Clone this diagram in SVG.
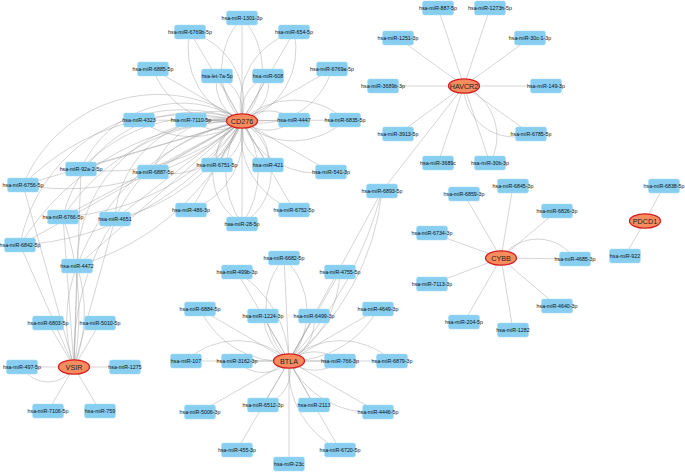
<svg xmlns="http://www.w3.org/2000/svg" width="685" height="473" viewBox="0 0 685 473">
<style>
.e{fill:none;stroke:#9a9a9a;stroke-opacity:0.6;stroke-width:0.7}
.m{fill:#87cef0;stroke:#a6dcf5;stroke-width:0.5}
.g{fill:#f98c5f;stroke:#d42020;stroke-width:1.3}
.t{font-family:"Liberation Sans",Arial,sans-serif;font-size:5.3px;fill:#111;text-anchor:middle;dominant-baseline:central}
.gt{font-family:"Liberation Sans",Arial,sans-serif;font-size:7.2px;fill:#222;text-anchor:middle;dominant-baseline:central}
</style>
<defs>
<rect id="box" class="m" x="-15.5" y="-7" width="31" height="14" rx="2"/>
</defs>
<rect width="685" height="473" fill="#fff"/>
<g id="edges">
<path class="e" d="M242 121 L242 18 M242 121 A75 75 0 0 0 242 18 M242 121 A75 75 0 0 1 242 18"/>
<path class="e" d="M242 121 L190 32 M242 121 A75 75 0 0 0 190 32 M242 121 A75 75 0 0 1 190 32"/>
<path class="e" d="M242 121 L294 32 M242 121 A75 75 0 0 0 294 32 M242 121 A75 75 0 0 1 294 32"/>
<path class="e" d="M242 121 L153 69 M242 121 A80 80 0 0 1 153 69"/>
<path class="e" d="M242 121 L217 76 M242 121 A40 40 0 0 0 217 76 M242 121 A40 40 0 0 1 217 76"/>
<path class="e" d="M242 121 L268 76 M242 121 A40 40 0 0 0 268 76 M242 121 A40 40 0 0 1 268 76"/>
<path class="e" d="M242 121 L332 69 M242 121 A75 75 0 0 0 332 69"/>
<path class="e" d="M242 121 L139 120 M242 121 A90 90 0 0 1 139 120"/>
<path class="e" d="M242 121 L191 120 M242 121 A40 40 0 0 0 191 120 M242 121 A40 40 0 0 1 191 120"/>
<path class="e" d="M242 121 L294 120 M242 121 A40 40 0 0 0 294 120 M242 121 A40 40 0 0 1 294 120"/>
<path class="e" d="M242 121 L345 120 M242 121 A75 75 0 0 0 345 120 M242 121 A75 75 0 0 1 345 120"/>
<path class="e" d="M242 121 L217 165 M242 121 A40 40 0 0 0 217 165 M242 121 A40 40 0 0 1 217 165"/>
<path class="e" d="M242 121 L268 165 M242 121 A40 40 0 0 0 268 165 M242 121 A40 40 0 0 1 268 165"/>
<path class="e" d="M242 121 L331 172 M242 121 A80 80 0 0 0 331 172"/>
<path class="e" d="M242 121 L153 172 M242 121 A75 75 0 0 0 153 172 M242 121 A75 75 0 0 1 153 172"/>
<path class="e" d="M242 121 L191 210 M242 121 A80 80 0 0 1 191 210"/>
<path class="e" d="M242 121 L294 210 M242 121 A80 80 0 0 0 294 210"/>
<path class="e" d="M242 121 L242 224 M242 121 A60 60 0 0 0 242 224 M242 121 A60 60 0 0 1 242 224 M242 121 A90 90 0 0 0 242 224 M242 121 A90 90 0 0 1 242 224"/>
<path class="e" d="M242 121 L81 169 M242 121 A110 110 0 0 0 81 169 M242 121 A170 170 0 0 0 81 169 M242 121 A200 200 0 0 1 81 169"/>
<path class="e" d="M242 121 L23 185 M242 121 A146 146 0 0 0 23 185 M242 121 A230 230 0 0 0 23 185 M242 121 A260 260 0 0 1 23 185"/>
<path class="e" d="M242 121 L63 217 M242 121 A135 135 0 0 0 63 217 M242 121 A210 210 0 0 0 63 217 M242 121 A240 240 0 0 1 63 217"/>
<path class="e" d="M242 121 L115 219 M242 121 A105 105 0 0 0 115 219 M242 121 A170 170 0 0 0 115 219 M242 121 A190 190 0 0 1 115 219"/>
<path class="e" d="M242 121 L20 245 M242 121 A165 165 0 0 0 20 245 M242 121 A260 260 0 0 0 20 245 M242 121 A290 290 0 0 1 20 245"/>
<path class="e" d="M242 121 L77 266 M242 121 A145 145 0 0 0 77 266 M242 121 A230 230 0 0 0 77 266 M242 121 A260 260 0 0 1 77 266"/>
<path class="e" d="M74 367 L48 323 M74 367 L100 323 M74 367 L22 367 M74 367 A30 30 0 0 1 22 367 M74 367 L125 367 M74 367 L48 411 M74 367 L100 411"/>
<path class="e" d="M74 367 L81 169 M74 367 L23 185 M74 367 L63 217 M74 367 A300 300 0 0 0 63 217 M74 367 L115 219 M74 367 A250 250 0 0 1 115 219 M74 367 L20 245 M74 367 L77 266 M74 367 A150 150 0 0 0 77 266 M74 367 A150 150 0 0 1 77 266"/>
<path class="e" d="M289 361 L284 258 M289 361 A75 75 0 0 0 284 258 M289 361 A75 75 0 0 1 284 258"/>
<path class="e" d="M289 361 L237 272 M289 361 A110 110 0 0 0 237 272"/>
<path class="e" d="M289 361 L340 272 M289 361 A110 110 0 0 0 340 272"/>
<path class="e" d="M289 361 L200 309 M289 361 A90 90 0 0 1 200 309"/>
<path class="e" d="M289 361 L263 316 M289 361 A60 60 0 0 1 263 316"/>
<path class="e" d="M289 361 L314 316 M289 361 A45 45 0 0 0 314 316"/>
<path class="e" d="M289 361 L378 309 M289 361 A100 100 0 0 0 378 309"/>
<path class="e" d="M289 361 L186 361 M289 361 A75 75 0 0 0 186 361"/>
<path class="e" d="M289 361 L237 361 M289 361 A35 35 0 0 1 237 361"/>
<path class="e" d="M289 361 L340 361 M289 361 A40 40 0 0 1 340 361 M289 361 A40 40 0 0 0 340 361"/>
<path class="e" d="M289 361 L392 361 M289 361 A75 75 0 0 1 392 361"/>
<path class="e" d="M289 361 L200 412"/>
<path class="e" d="M289 361 L263 405 M289 361 A35 35 0 0 1 263 405"/>
<path class="e" d="M289 361 L314 405"/>
<path class="e" d="M289 361 L378 412 M289 361 A90 90 0 0 0 378 412"/>
<path class="e" d="M289 361 L237 450"/>
<path class="e" d="M289 361 L340 450 M289 361 A90 90 0 0 0 340 450"/>
<path class="e" d="M289 361 L289 464"/>
<path class="e" d="M289 361 L382 191 M289 361 A250 250 0 0 0 382 191 M289 361 A400 400 0 0 0 382 191"/>
<path class="e" d="M464 86 L438 8 M464 86 L490 8 M464 86 L398 38 M464 86 L530 38 M464 86 L383 86 M464 86 L546 86 M464 86 L398 134 M464 86 L438 163 M464 86 L382 191"/>
<path class="e" d="M464 86 L531 134 M464 86 A50 50 0 0 0 531 134"/>
<path class="e" d="M464 86 L490 163 M464 86 A55 55 0 0 1 490 163"/>
<path class="e" d="M501 258 L464 194 M501 258 L513 186 M501 258 L557 211 M501 258 L432 233 M501 258 L432 284 M501 258 L557 306 M501 258 L464 322 M501 258 L513 330"/>
<path class="e" d="M501 258 L575 259 M501 258 A45 45 0 0 1 575 259"/>
<path class="e" d="M645 221 L664 186 M645 221 L625 256"/>
</g>
<g id="n-1301-3p" transform="translate(242,18)"><use href="#box"/><text class="t">hsa-miR-1301-3p</text></g>
<g id="n-6769b-5p" transform="translate(190,32)"><use href="#box"/><text class="t">hsa-miR-6769b-5p</text></g>
<g id="n-654-5p" transform="translate(294,32)"><use href="#box"/><text class="t">hsa-miR-654-5p</text></g>
<g id="n-6885-5p" transform="translate(153,69)"><use href="#box"/><text class="t">hsa-miR-6885-5p</text></g>
<g id="n-let-7a-5p" transform="translate(217,76)"><use href="#box"/><text class="t">hsa-let-7a-5p</text></g>
<g id="n-608" transform="translate(268,76)"><use href="#box"/><text class="t">hsa-miR-608</text></g>
<g id="n-6769a-5p" transform="translate(332,69)"><use href="#box"/><text class="t">hsa-miR-6769a-5p</text></g>
<g id="n-4323" transform="translate(139,120)"><use href="#box"/><text class="t">hsa-miR-4323</text></g>
<g id="n-7110-5p" transform="translate(191,120)"><use href="#box"/><text class="t">hsa-miR-7110-5p</text></g>
<g id="n-4447" transform="translate(294,120)"><use href="#box"/><text class="t">hsa-miR-4447</text></g>
<g id="n-6835-5p" transform="translate(345,120)"><use href="#box"/><text class="t">hsa-miR-6835-5p</text></g>
<g id="n-6751-5p" transform="translate(217,165)"><use href="#box"/><text class="t">hsa-miR-6751-5p</text></g>
<g id="n-421" transform="translate(268,165)"><use href="#box"/><text class="t">hsa-miR-421</text></g>
<g id="n-541-3p" transform="translate(331,172)"><use href="#box"/><text class="t">hsa-miR-541-3p</text></g>
<g id="n-6887-5p" transform="translate(153,172)"><use href="#box"/><text class="t">hsa-miR-6887-5p</text></g>
<g id="n-486-3p" transform="translate(191,210)"><use href="#box"/><text class="t">hsa-miR-486-3p</text></g>
<g id="n-6752-5p" transform="translate(294,210)"><use href="#box"/><text class="t">hsa-miR-6752-5p</text></g>
<g id="n-28-5p" transform="translate(242,224)"><use href="#box"/><text class="t">hsa-miR-28-5p</text></g>
<g id="n-92a-2-5p" transform="translate(81,169)"><use href="#box"/><text class="t">hsa-miR-92a-2-5p</text></g>
<g id="n-6756-5p" transform="translate(23,185)"><use href="#box"/><text class="t">hsa-miR-6756-5p</text></g>
<g id="n-6766-5p" transform="translate(63,217)"><use href="#box"/><text class="t">hsa-miR-6766-5p</text></g>
<g id="n-4651" transform="translate(115,219)"><use href="#box"/><text class="t">hsa-miR-4651</text></g>
<g id="n-6842-5p" transform="translate(20,245)"><use href="#box"/><text class="t">hsa-miR-6842-5p</text></g>
<g id="n-4472" transform="translate(77,266)"><use href="#box"/><text class="t">hsa-miR-4472</text></g>
<g id="n-6803-5p" transform="translate(48,323)"><use href="#box"/><text class="t">hsa-miR-6803-5p</text></g>
<g id="n-5010-5p" transform="translate(100,323)"><use href="#box"/><text class="t">hsa-miR-5010-5p</text></g>
<g id="n-497-5p" transform="translate(22,367)"><use href="#box"/><text class="t">hsa-miR-497-5p</text></g>
<g id="n-1275" transform="translate(125,367)"><use href="#box"/><text class="t">hsa-miR-1275</text></g>
<g id="n-7106-5p" transform="translate(48,411)"><use href="#box"/><text class="t">hsa-miR-7106-5p</text></g>
<g id="n-759" transform="translate(100,411)"><use href="#box"/><text class="t">hsa-miR-759</text></g>
<g id="n-6682-5p" transform="translate(284,258)"><use href="#box"/><text class="t">hsa-miR-6682-5p</text></g>
<g id="n-499b-3p" transform="translate(237,272)"><use href="#box"/><text class="t">hsa-miR-499b-3p</text></g>
<g id="n-4755-5p" transform="translate(340,272)"><use href="#box"/><text class="t">hsa-miR-4755-5p</text></g>
<g id="n-6884-5p" transform="translate(200,309)"><use href="#box"/><text class="t">hsa-miR-6884-5p</text></g>
<g id="n-1224-3p" transform="translate(263,316)"><use href="#box"/><text class="t">hsa-miR-1224-3p</text></g>
<g id="n-6499-3p" transform="translate(314,316)"><use href="#box"/><text class="t">hsa-miR-6499-3p</text></g>
<g id="n-4649-3p" transform="translate(378,309)"><use href="#box"/><text class="t">hsa-miR-4649-3p</text></g>
<g id="n-107" transform="translate(186,361)"><use href="#box"/><text class="t">hsa-miR-107</text></g>
<g id="n-3162-3p" transform="translate(237,361)"><use href="#box"/><text class="t">hsa-miR-3162-3p</text></g>
<g id="n-766-3p" transform="translate(340,361)"><use href="#box"/><text class="t">hsa-miR-766-3p</text></g>
<g id="n-6879-3p" transform="translate(392,361)"><use href="#box"/><text class="t">hsa-miR-6879-3p</text></g>
<g id="n-5006-3p" transform="translate(200,412)"><use href="#box"/><text class="t">hsa-miR-5006-3p</text></g>
<g id="n-6512-3p" transform="translate(263,405)"><use href="#box"/><text class="t">hsa-miR-6512-3p</text></g>
<g id="n-2113" transform="translate(314,405)"><use href="#box"/><text class="t">hsa-miR-2113</text></g>
<g id="n-4446-5p" transform="translate(378,412)"><use href="#box"/><text class="t">hsa-miR-4446-5p</text></g>
<g id="n-455-3p" transform="translate(237,450)"><use href="#box"/><text class="t">hsa-miR-455-3p</text></g>
<g id="n-6720-5p" transform="translate(340,450)"><use href="#box"/><text class="t">hsa-miR-6720-5p</text></g>
<g id="n-23c" transform="translate(289,464)"><use href="#box"/><text class="t">hsa-miR-23c</text></g>
<g id="n-6893-5p" transform="translate(382,191)"><use href="#box"/><text class="t">hsa-miR-6893-5p</text></g>
<g id="n-887-5p" transform="translate(438,8)"><use href="#box"/><text class="t">hsa-miR-887-5p</text></g>
<g id="n-1273h-5p" transform="translate(490,8)"><use href="#box"/><text class="t">hsa-miR-1273h-5p</text></g>
<g id="n-1251-3p" transform="translate(398,38)"><use href="#box"/><text class="t">hsa-miR-1251-3p</text></g>
<g id="n-30c-1-3p" transform="translate(530,38)"><use href="#box"/><text class="t">hsa-miR-30c-1-3p</text></g>
<g id="n-3689b-3p" transform="translate(383,86)"><use href="#box"/><text class="t">hsa-miR-3689b-3p</text></g>
<g id="n-149-3p" transform="translate(546,86)"><use href="#box"/><text class="t">hsa-miR-149-3p</text></g>
<g id="n-3913-5p" transform="translate(398,134)"><use href="#box"/><text class="t">hsa-miR-3913-5p</text></g>
<g id="n-6785-5p" transform="translate(531,134)"><use href="#box"/><text class="t">hsa-miR-6785-5p</text></g>
<g id="n-3689c" transform="translate(438,163)"><use href="#box"/><text class="t">hsa-miR-3689c</text></g>
<g id="n-30b-3p" transform="translate(490,163)"><use href="#box"/><text class="t">hsa-miR-30b-3p</text></g>
<g id="n-6859-3p" transform="translate(464,194)"><use href="#box"/><text class="t">hsa-miR-6859-3p</text></g>
<g id="n-6845-3p" transform="translate(513,186)"><use href="#box"/><text class="t">hsa-miR-6845-3p</text></g>
<g id="n-6826-3p" transform="translate(557,211)"><use href="#box"/><text class="t">hsa-miR-6826-3p</text></g>
<g id="n-6734-3p" transform="translate(432,233)"><use href="#box"/><text class="t">hsa-miR-6734-3p</text></g>
<g id="n-4685-3p" transform="translate(575,259)"><use href="#box"/><text class="t">hsa-miR-4685-3p</text></g>
<g id="n-7113-3p" transform="translate(432,284)"><use href="#box"/><text class="t">hsa-miR-7113-3p</text></g>
<g id="n-4640-3p" transform="translate(557,306)"><use href="#box"/><text class="t">hsa-miR-4640-3p</text></g>
<g id="n-204-5p" transform="translate(464,322)"><use href="#box"/><text class="t">hsa-miR-204-5p</text></g>
<g id="n-1282" transform="translate(513,330)"><use href="#box"/><text class="t">hsa-miR-1282</text></g>
<g id="n-6838-5p" transform="translate(664,186)"><use href="#box"/><text class="t">hsa-miR-6838-5p</text></g>
<g id="n-922" transform="translate(625,256)"><use href="#box"/><text class="t">hsa-miR-922</text></g>
<g id="CD276" transform="translate(242,121)"><ellipse class="g" rx="15.5" ry="7.2"/><text class="gt">CD276</text></g>
<g id="VSIR" transform="translate(74,367)"><ellipse class="g" rx="15.5" ry="7.2"/><text class="gt">VSIR</text></g>
<g id="BTLA" transform="translate(289,361)"><ellipse class="g" rx="15.5" ry="7.2"/><text class="gt">BTLA</text></g>
<g id="HAVCR2" transform="translate(464,86)"><ellipse class="g" rx="15.5" ry="7.2"/><text class="gt">HAVCR2</text></g>
<g id="CYBB" transform="translate(501,258)"><ellipse class="g" rx="15.5" ry="7.2"/><text class="gt">CYBB</text></g>
<g id="PDCD1" transform="translate(645,221)"><ellipse class="g" rx="15.5" ry="7.2"/><text class="gt">PDCD1</text></g>
</svg>
